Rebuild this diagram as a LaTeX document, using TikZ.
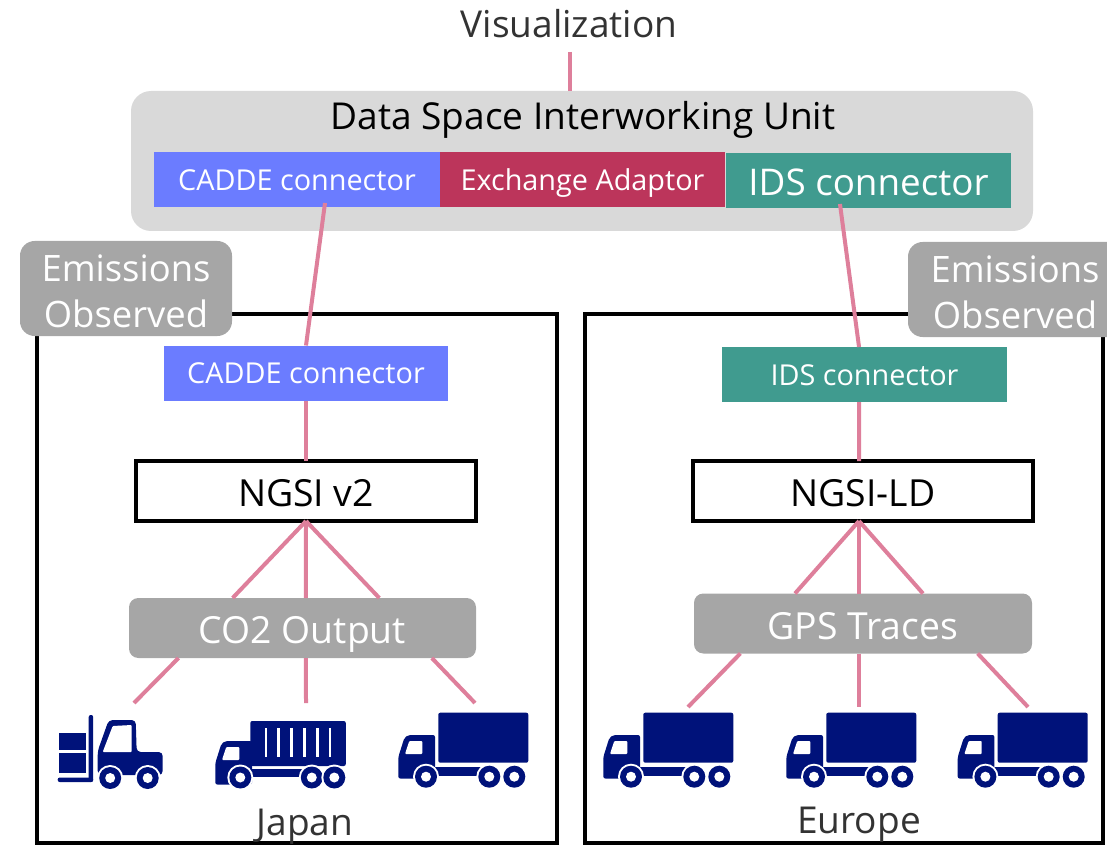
\documentclass[tikz,border=0pt]{standalone}
\usepackage{fontspec}
\setmainfont{Open Sans}
\definecolor{linkpink}{HTML}{DE7F9B}
\definecolor{unitgray}{HTML}{D9D9D9}
\definecolor{tagggray}{HTML}{A6A6A6}
\definecolor{caddeblue}{HTML}{6B7CFF}
\definecolor{adaptorred}{HTML}{BC355B}
\definecolor{idsgreen}{HTML}{409B8F}
\definecolor{trucknavy}{HTML}{00127A}
\definecolor{inktext}{HTML}{333333}
\def\px{0.75pt}
\tikzset{
	bar/.style={inner sep=0pt,outer sep=0pt,text=white,minimum width=285*\px,minimum height=55*\px},
	barsmall/.style={font=\fontsize{21.6}{24}\selectfont,text height=16pt,text depth=0.2pt},
	barbig/.style={font=\fontsize{27.6}{30}\selectfont,text height=22pt,text depth=0.2pt},
	standard/.style={draw=black,line width=2.7pt,fill=white,inner sep=0pt,outer sep=0pt,minimum width=340*\px,minimum height=60*\px,font=\fontsize{28}{32}\selectfont,text height=24pt,text depth=0.2pt},
	source/.style={fill=tagggray,rounded corners=7pt,inner sep=0pt,outer sep=0pt,text=white,minimum height=60*\px,font=\fontsize{28}{32}\selectfont,text height=24pt,text depth=0.2pt},
	tag/.style={fill=tagggray,rounded corners=11pt,inner sep=0pt,outer sep=0pt,minimum height=95*\px},
	tagtext/.style={inner sep=0pt,outer sep=0pt,text=white,align=center,yshift=-2.2pt,font=\fontsize{27.3}{34.5}\selectfont},
	region/.style={draw=black,line width=2.7pt,inner sep=0pt,outer sep=0pt},
	label/.style={inner sep=0pt,outer sep=0pt,text=inktext,font=\fontsize{27.8}{32}\selectfont},
	link/.style={draw=linkpink,line width=3pt},
	wheel/.pic={
		\fill[white] (0,0) circle (13);
		\fill[trucknavy] (0,0) circle (11);
		\fill[white] (0,0) circle (5);
	},
	cabin/.pic={
		\fill[trucknavy,rounded corners=1.5pt] (0,43.5) -- (0,22) -- (6,3) -- (10,0) -- (36.7,0) -- (36.7,43.5) -- cycle;
		\fill[white,rounded corners=0.7pt] (6.7,19) -- (11,6) -- (24,6) -- (24,19) -- cycle;
	},
	boxtruck/.pic={
		\fill[trucknavy,rounded corners=1.5pt] (40,0) rectangle (130,50);
		\pic at (0,22.3) {cabin};
		\fill[trucknavy] (36,54) rectangle (86,63);
		\pic at (27.7,64) {wheel};
		\pic at (91,64) {wheel};
		\pic at (116,64) {wheel};
	},
	containertruck/.pic={
		\fill[trucknavy,rounded corners=1.5pt] (35,0) rectangle (130.5,45);
		\foreach \x in {50.5,63,76,89,102,114.5}
			\fill[white] (\x-1.2,7) rectangle (\x+1.2,36);
		\pic at (0,20) {cabin};
		\fill[trucknavy] (36,48) rectangle (90,56);
		\pic at (25,56.5) {wheel};
		\pic at (96.5,56.5) {wheel};
		\pic at (119,56.5) {wheel};
	},
	forklift/.pic={
		\fill[trucknavy,rounded corners=1.5pt] (31,0) rectangle (35.5,67);
		\fill[trucknavy,rounded corners=1.5pt] (0,62.5) rectangle (35.5,67);
		\fill[trucknavy] (1.5,17.5) rectangle (28,35);
		\fill[trucknavy] (1.5,37.5) rectangle (28,58);
		\fill[trucknavy,rounded corners=3pt] (40,60) -- (40,36) -- (51,5) -- (78,5) -- (79,37) -- (105,37) -- (105,60) -- cycle;
		\fill[white,rounded corners=0.7pt] (45,37) -- (55,11) -- (74,10) -- (74,37) -- cycle;
		\pic at (52.5,63) {wheel};
		\pic at (90,63) {wheel};
	}
}
\begin{document}
\begin{tikzpicture}[x=\px,y=-\px]
			\useasboundingbox (0,0) rectangle (1107,845);
			\clip (0,0) rectangle (1107,845);
			% regions
			\node[region,minimum width=520*\px,minimum height=529*\px] (japan) at (297,578.5) {};
			\node[region,minimum width=518*\px,minimum height=529*\px] (europe) at (844,578.5) {};
			\node[tag,minimum width=212*\px] (tagJapan) at (126,288.5) {};
			\node[tagtext] (tagJapanText) at (tagJapan) {Emissions\\Observed};
			\node[tag,minimum width=214*\px] (tagEurope) at (1015,289.5) {};
			\node[tagtext] (tagEuropeText) at (tagEurope) {Emissions\\Observed};
			% interworking unit
			\node[fill=unitgray,rounded corners=15pt,inner sep=0pt,outer sep=0pt,minimum width=902*\px,minimum height=140*\px] (unit) at (582,161) {};
			\node[label,text=black] (unitTitle) at (583,120) {Data Space Interworking Unit};
			\node[bar,barsmall,fill=caddeblue,minimum width=286*\px] (caddeTop) at (297,179.5) {CADDE connector};
			\node[bar,barsmall,fill=adaptorred] (adaptor) at (582.5,179.5) {Exchange Adaptor};
			\node[bar,barbig,fill=idsgreen] (idsTop) at (868.5,180.5) {IDS connector};
			\node[label] (vis) at (569,24) {Visualization};
			% Japan side
			\node[bar,barsmall,fill=caddeblue,minimum width=284*\px] (caddeLow) at (306,373) {CADDE connector};
			\node[standard] (ngsiTwo) at (306,491) {NGSI v2};
			\node[source,minimum width=347*\px] (co2) at (302.5,628) {CO2 Output};
			\node[label] (japanName) at (305,827) {Japan};
			% Europe side
			\node[bar,barsmall,fill=idsgreen] (idsLow) at (864.5,374.5) {IDS connector};
			\node[standard] (ngsiLd) at (863,491) {NGSI-LD};
			\node[source,minimum width=338*\px] (gps) at (863,623.5) {GPS Traces};
			\node[label] (europeName) at (859,825) {Europe};
			% vehicles
			\pic at (57.7,715) {forklift};
			\pic at (215.3,721) {containertruck};
			\pic at (398.3,712.7) {boxtruck};
			\foreach \x in {603.3,786.3,957.7}
				\pic at (\x,712.7) {boxtruck};
			% free ends of the links
			\coordinate (visEnd) at (570,52);
			\coordinate (fleetA) at (134,703);
			\coordinate (fleetB) at (306,703);
			\coordinate (fleetC) at (475,703);
			\coordinate (fleetD) at (688,707);
			\coordinate (fleetE) at (859,707);
			\coordinate (fleetF) at (1028,707);
			% links
			\draw[link] (visEnd) -- (570,91);
			\draw[link] ([xshift=21pt,yshift=3pt]caddeTop.south) -- (caddeLow.north);
			\draw[link] ([xshift=-21.4pt,yshift=3pt]idsTop.south) -- ([xshift=-4.1pt]idsLow.north);
			\draw[link] (caddeLow.south) -- (ngsiTwo.north);
			\draw[link] ([xshift=-4.1pt]idsLow.south) -- ([xshift=-3pt]ngsiLd.north);
			\foreach \dx in {-55,0,55}
				\draw[link] (ngsiTwo.south) -- ([xshift=\dx pt+2.6pt]co2.north);
			\foreach \dx in {-48,0,48}
				\draw[link] ([xshift=-3pt]ngsiLd.south) -- ([xshift=\dx pt-3pt]gps.north);
			\draw[link] ([xshift=-93pt]co2.south) -- (fleetA);
			\draw[link] ([xshift=2.6pt]co2.south) -- (fleetB);
			\draw[link] ([xshift=97pt]co2.south) -- (fleetC);
			\draw[link] ([xshift=-92pt]gps.south) -- (fleetD);
			\draw[link] ([xshift=-3pt]gps.south) -- (fleetE);
			\draw[link] ([xshift=86pt]gps.south) -- (fleetF);
			\end{tikzpicture}
\end{document}
